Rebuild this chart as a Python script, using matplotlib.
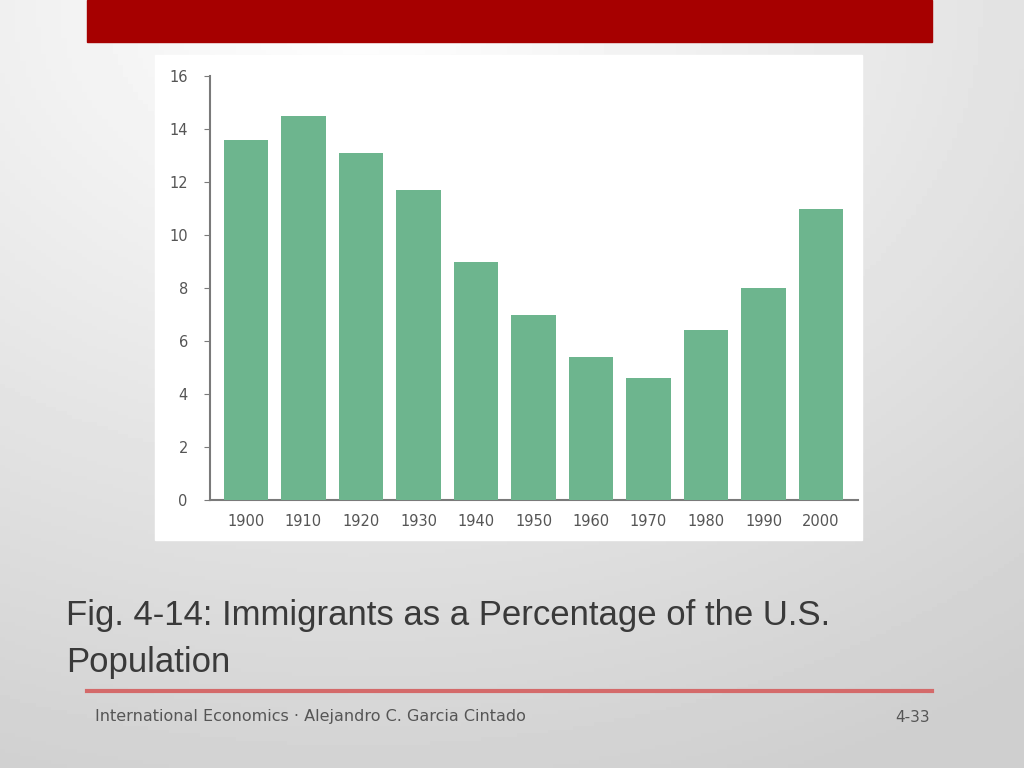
import matplotlib
matplotlib.use("Agg")
import matplotlib.pyplot as plt
import numpy as np
from matplotlib.patches import Rectangle

years = ["1900", "1910", "1920", "1930", "1940", "1950", "1960", "1970", "1980", "1990", "2000"]
percent = [13.6, 14.5, 13.1, 11.7, 9.0, 7.0, 5.4, 4.6, 6.4, 8.0, 11.0]
yticks = [0, 2, 4, 6, 8, 10, 12, 14, 16]
caption = "Fig. 4-14: Immigrants as a Percentage of the U.S.\nPopulation"
footer_left = "International Economics · Alejandro C. Garcia Cintado"
footer_right = "4-33"

W, H = 1024, 768
fig = plt.figure(figsize=(W / 100, H / 100), dpi=100)

# background gradient
bg = fig.add_axes([0, 0, 1, 1], zorder=0)
yy, xx = np.mgrid[0:1:200j, 0:1:200j]
r = np.sqrt((xx - 0.35) ** 2 + (yy * 1.0) ** 2)
val = 1.0 - 0.19 * np.clip(r / 1.1, 0, 1)
bg.imshow(val, cmap="gray", vmin=0, vmax=1, extent=[0, 1, 0, 1], origin="upper", aspect="auto")
bg.set_xlim(0, 1); bg.set_ylim(0, 1)
bg.axis("off")

def fx(px):
    return px / W
def fy(py):
    return 1 - py / H

# red banner
fig.patches.append(Rectangle((fx(87), fy(42)), fx(932) - fx(87), fy(0) - fy(42),
                             transform=fig.transFigure, color="#a60000", zorder=1))
# white panel
fig.patches.append(Rectangle((fx(155), fy(540)), fx(862) - fx(155), fy(55) - fy(540),
                             transform=fig.transFigure, color="white", zorder=1))

ax = fig.add_axes([fx(210), fy(500), fx(858) - fx(210), fy(76) - fy(500)], zorder=2)
ax.patch.set_alpha(0)
x = np.arange(len(years))
ax.bar(x, percent, width=0.77, color="#6db58e", zorder=3)
ax.set_xlim(-0.626, 10.643)
ax.set_ylim(0, 16)
ax.set_yticks(yticks)
ax.set_xticks(x)
ax.set_xticklabels(years)
for s in ["top", "right"]:
    ax.spines[s].set_visible(False)
for s in ["left", "bottom"]:
    ax.spines[s].set_color("#7a7a7a")
    ax.spines[s].set_linewidth(1.5)
ax.tick_params(axis="y", length=4, color="#7a7a7a", labelsize=10.5, labelcolor="#555555", pad=12)
ax.tick_params(axis="x", length=0, labelsize=10.5, labelcolor="#555555", pad=10)

fig.text(fx(66), fy(599), caption, fontsize=25, color="#3a3a3a", va="top", ha="left",
         family="Liberation Sans", linespacing=1.55, zorder=3)

fig.add_artist(plt.Line2D([fx(87), fx(932)], [fy(691), fy(691)], color="#d46a6a", lw=3,
                          transform=fig.transFigure, zorder=3))
fig.text(fx(95), fy(717), footer_left, fontsize=11.5, color="#555555", va="center", ha="left", zorder=3)
fig.text(fx(930), fy(717), footer_right, fontsize=11, color="#555555", va="center", ha="right", zorder=3)

fig.savefig("out.png", dpi=100)
